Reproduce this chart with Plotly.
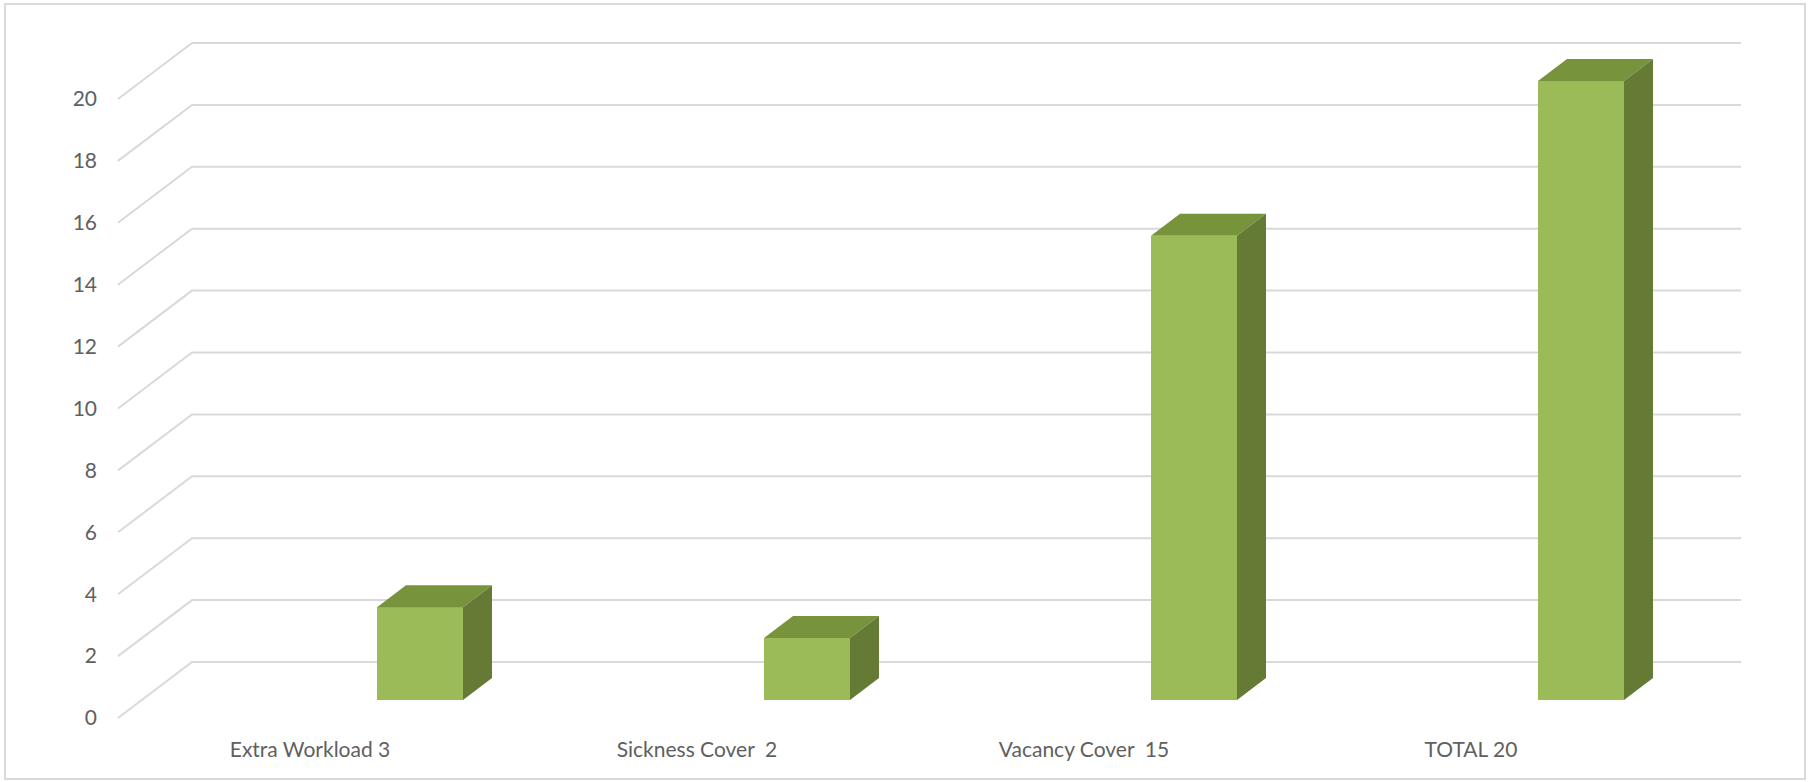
import plotly.graph_objects as go

# ---- data ----
categories = ["Extra Workload 3", "Sickness Cover  2", "Vacancy Cover  15", "TOTAL 20"]
values = [3, 2, 15, 20]
y_ticks = [0, 2, 4, 6, 8, 10, 12, 14, 16, 18, 20]

# ---- styling / geometry (pixel-derived constants) ----
W, H = 1814, 782
FRONT = "#9BBB59"
TOP = "#77933C"
SIDE = "#657A34"
GRID = "#D9D9D9"
TXT = "#606060"
FONT = "Lato"

cat_px = 387.0          # px per category
unit_px = 30.95         # px per value unit
cx0_px = 420.0          # pixel x of category 0 bar centre
y0_px = 700.0           # pixel y of value 0 on bar front plane
L_px, B_px = 98.0, 735.0

def px_x(p):
    return (p - cx0_px) / cat_px

def px_dy(d):
    return d / unit_px

bar_w = 86 / cat_px
dxc = 29 / cat_px
dyv = px_dy(22)
x_front = px_x(118)
x_back = px_x(192)
x_right = px_x(1741)
yf_off = px_dy(y0_px - 718)
yb_off = px_dy(y0_px - 662)
lab_off = -110 / cat_px

xs = list(range(len(categories)))

fig = go.Figure()

# front faces
fig.add_trace(go.Bar(x=xs, y=values, width=bar_w, marker=dict(color=FRONT, line=dict(width=0)),
                     hoverinfo="skip", showlegend=False))

# top and side faces
for i, v in zip(xs, values):
    x0, x1 = i - bar_w / 2, i + bar_w / 2
    fig.add_trace(go.Scatter(
        x=[x0, x1, x1 + dxc, x0 + dxc, x0], y=[v, v, v + dyv, v + dyv, v],
        fill="toself", fillcolor=TOP, mode="lines", line=dict(width=0, color=TOP),
        hoverinfo="skip", showlegend=False))
    fig.add_trace(go.Scatter(
        x=[x1, x1 + dxc, x1 + dxc, x1, x1], y=[0, dyv, v + dyv, v, 0],
        fill="toself", fillcolor=SIDE, mode="lines", line=dict(width=0, color=SIDE),
        hoverinfo="skip", showlegend=False))

# 3D gridlines (side wall diagonal + back wall horizontal)
shapes = []
for t in y_ticks:
    path = (f"M {x_front},{t + yf_off} L {x_back},{t + yb_off} L {x_right},{t + yb_off}")
    shapes.append(dict(type="path", path=path, xref="x", yref="y", layer="below",
                       line=dict(color=GRID, width=2)))
# outer border
shapes.append(dict(type="rect", xref="paper", yref="paper",
                   x0=5 / W, x1=1805 / W, y0=1 - 779 / H, y1=1 - 4 / H,
                   line=dict(color=GRID, width=2), fillcolor="rgba(0,0,0,0)", layer="below"))

x_range = [px_x(L_px), px_x(W)]
y_range = [px_dy(y0_px - B_px), px_dy(y0_px)]

fig.update_layout(
    width=W, height=H,
    margin=dict(l=0, r=0, t=0, b=0),
    paper_bgcolor="white", plot_bgcolor="white",
    shapes=shapes,
    bargap=0,
    xaxis=dict(domain=[L_px / W, 1], range=x_range, showgrid=False, zeroline=False,
               showline=False, ticks="", tickmode="array",
               tickvals=[i + lab_off for i in xs],
               ticktext=[c.replace("  ", " \u00a0") for c in categories],
               tickfont=dict(family=FONT, size=21, color=TXT), fixedrange=True),
    yaxis=dict(domain=[1 - B_px / H, 1], range=y_range, showgrid=False, zeroline=False,
               showline=False, ticks="", tickmode="array",
               tickvals=[t + yf_off for t in y_ticks], ticktext=[str(t) for t in y_ticks],
               tickfont=dict(family=FONT, size=21, color=TXT), fixedrange=True),
    font=dict(family=FONT, color=TXT),
)

fig.write_html("out.html")
